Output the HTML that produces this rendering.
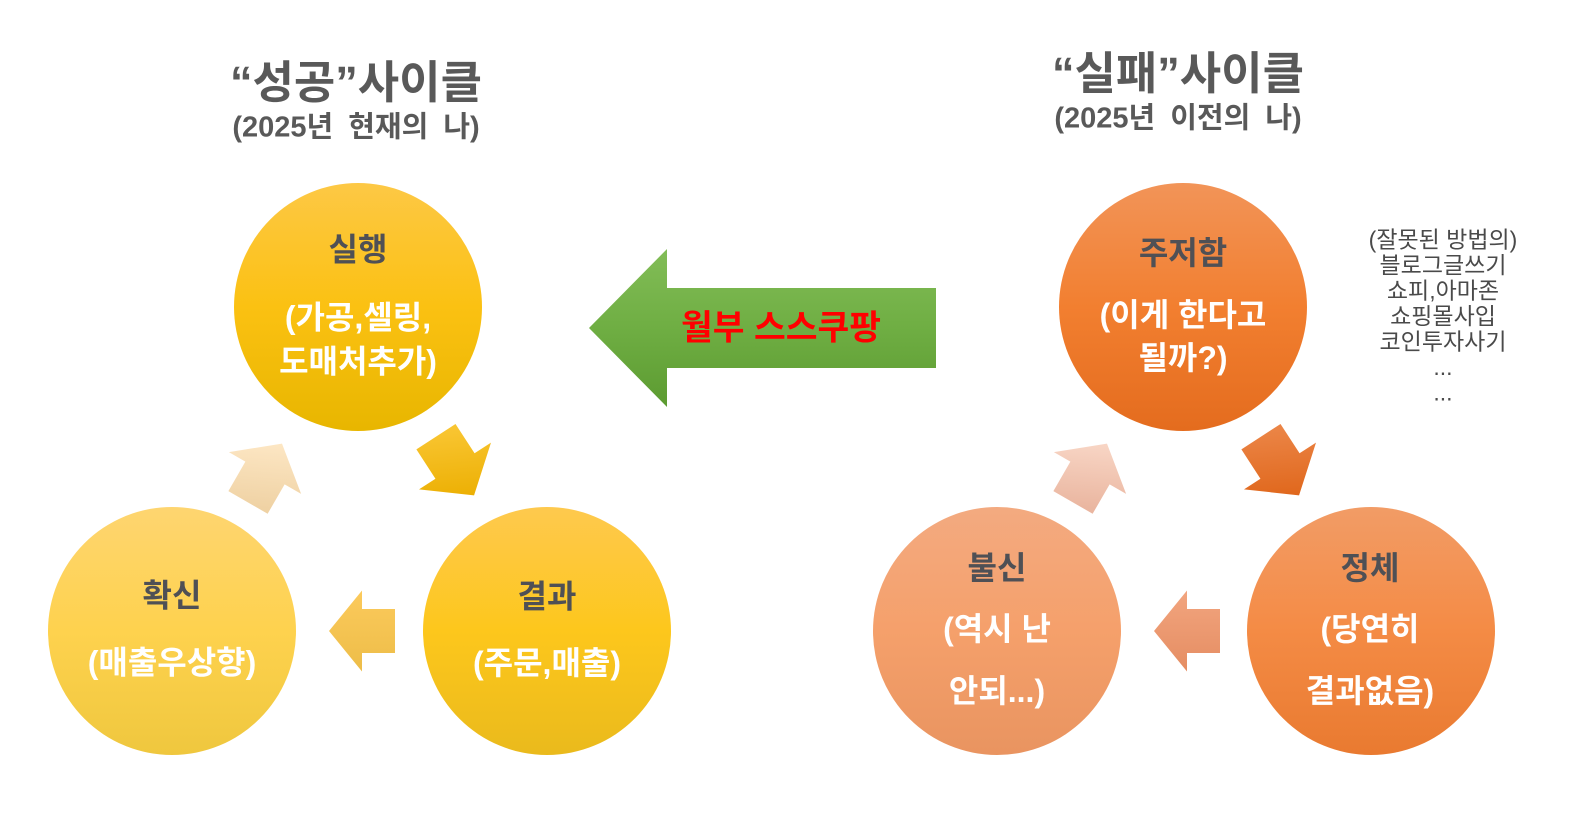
<!DOCTYPE html>
<html>
<head>
<meta charset="utf-8">
<style>
  html,body{margin:0;padding:0;background:#fff;}
  body{width:1579px;height:821px;overflow:hidden;}
  svg{display:block;}
  text{font-family:"Liberation Sans","Noto Sans CJK KR","NanumGothic",sans-serif;}
</style>
</head>
<body>
<svg width="1579" height="821" viewBox="0 0 1579 821" xmlns="http://www.w3.org/2000/svg">
  <defs>
    <linearGradient id="gY1" x1="0" y1="0" x2="0" y2="1">
      <stop offset="0" stop-color="#fdc845"/><stop offset="0.5" stop-color="#fbc112"/><stop offset="1" stop-color="#e8b600"/>
    </linearGradient>
    <linearGradient id="gY2" x1="0" y1="0" x2="0" y2="1">
      <stop offset="0" stop-color="#fec94e"/><stop offset="0.5" stop-color="#fdc71c"/><stop offset="1" stop-color="#eaba1c"/>
    </linearGradient>
    <linearGradient id="gY3" x1="0" y1="0" x2="0" y2="1">
      <stop offset="0" stop-color="#fed570"/><stop offset="0.5" stop-color="#fed24e"/><stop offset="1" stop-color="#efc73e"/>
    </linearGradient>
    <linearGradient id="gO1" x1="0" y1="0" x2="0" y2="1">
      <stop offset="0" stop-color="#f29458"/><stop offset="0.5" stop-color="#f27f30"/><stop offset="1" stop-color="#e46c1e"/>
    </linearGradient>
    <linearGradient id="gO2" x1="0" y1="0" x2="0" y2="1">
      <stop offset="0" stop-color="#f29c66"/><stop offset="0.5" stop-color="#f48b45"/><stop offset="1" stop-color="#e97a30"/>
    </linearGradient>
    <linearGradient id="gO3" x1="0" y1="0" x2="0" y2="1">
      <stop offset="0" stop-color="#f3aa80"/><stop offset="0.5" stop-color="#f5a06b"/><stop offset="1" stop-color="#e99460"/>
    </linearGradient>
    <linearGradient id="gGreen" x1="0" y1="0" x2="0" y2="1">
      <stop offset="0" stop-color="#82bd57"/><stop offset="0.5" stop-color="#6fae43"/><stop offset="1" stop-color="#5c9b31"/>
    </linearGradient>
    <linearGradient id="aDR_Y" x1="0.08" y1="0.23" x2="0.92" y2="0.77">
      <stop offset="0" stop-color="#f9c531"/><stop offset="1" stop-color="#ebae00"/>
    </linearGradient>
    <linearGradient id="aL_Y" x1="0" y1="1" x2="0" y2="0">
      <stop offset="0" stop-color="#fcca5c"/><stop offset="1" stop-color="#edbd48"/>
    </linearGradient>
    <linearGradient id="aUR_Y" x1="0.93" y1="0.25" x2="0.07" y2="0.75">
      <stop offset="0" stop-color="#fee8c6"/><stop offset="1" stop-color="#efd2a4"/>
    </linearGradient>
    <linearGradient id="aDR_O" x1="0.08" y1="0.23" x2="0.92" y2="0.77">
      <stop offset="0" stop-color="#eb8445"/><stop offset="1" stop-color="#df6519"/>
    </linearGradient>
    <linearGradient id="aL_O" x1="0" y1="1" x2="0" y2="0">
      <stop offset="0" stop-color="#f2a57f"/><stop offset="1" stop-color="#e58d62"/>
    </linearGradient>
    <linearGradient id="aUR_O" x1="0.93" y1="0.25" x2="0.07" y2="0.75">
      <stop offset="0" stop-color="#f9d8c8"/><stop offset="1" stop-color="#eab6a0"/>
    </linearGradient>
    <polygon id="arr" points="-33,-22 0,-22 0,-40.5 33,0 0,40.5 0,22 -33,22"/>
  </defs>

  <!-- Titles -->
  <text x="356" y="98" text-anchor="middle" font-size="45" font-weight="700" fill="#595959">“성공”사이클</text>
  <text x="356" y="136.5" text-anchor="middle" font-size="29" font-weight="700" fill="#595959" word-spacing="7">(2025년 현재의 나)</text>
  <text x="1178" y="89" text-anchor="middle" font-size="45" font-weight="700" fill="#595959">“실패”사이클</text>
  <text x="1178" y="127.5" text-anchor="middle" font-size="29" font-weight="700" fill="#595959" word-spacing="7">(2025년 이전의 나)</text>

  <!-- LEFT CYCLE -->
  <circle cx="358" cy="307" r="124" fill="url(#gY1)"/>
  <circle cx="547" cy="631" r="124" fill="url(#gY2)"/>
  <circle cx="172" cy="631" r="124" fill="url(#gY3)"/>

  <g transform="translate(455,466) rotate(57) scale(1.06)"><use href="#arr" fill="url(#aDR_Y)"/></g>
  <g transform="translate(362,631) rotate(180)"><use href="#arr" fill="url(#aL_Y)"/></g>
  <g transform="translate(265,473) rotate(-60) scale(1.03)"><use href="#arr" fill="url(#aUR_Y)"/></g>

  <g text-anchor="middle" font-weight="700" font-size="32">
    <text x="358" y="260.5" fill="#4f5055">실행</text>
    <text x="358" y="328.5" fill="#ffffff">(가공,셀링,</text>
    <text x="358" y="372.5" fill="#ffffff">도매처추가)</text>

    <text x="547" y="607.5" fill="#4f5055">결과</text>
    <text x="547" y="674" fill="#ffffff">(주문,매출)</text>

    <text x="172" y="606.5" fill="#4f5055">확신</text>
    <text x="172" y="673.5" fill="#ffffff">(매출우상향)</text>
  </g>

  <!-- GREEN ARROW -->
  <polygon points="589,328 667,249 667,288 936,288 936,368 667,368 667,407" fill="url(#gGreen)"/>
  <text x="781" y="339.5" text-anchor="middle" font-size="34.5" font-weight="700" fill="#ff0000">월부 스스쿠팡</text>

  <!-- RIGHT CYCLE -->
  <circle cx="1183" cy="307" r="124" fill="url(#gO1)"/>
  <circle cx="1371" cy="631" r="124" fill="url(#gO2)"/>
  <circle cx="997" cy="631" r="124" fill="url(#gO3)"/>

  <g transform="translate(1280,466) rotate(57) scale(1.06)"><use href="#arr" fill="url(#aDR_O)"/></g>
  <g transform="translate(1187,631) rotate(180)"><use href="#arr" fill="url(#aL_O)"/></g>
  <g transform="translate(1090,473) rotate(-60) scale(1.03)"><use href="#arr" fill="url(#aUR_O)"/></g>

  <g text-anchor="middle" font-weight="700" font-size="32">
    <text x="1183" y="264" fill="#4f5055">주저함</text>
    <text x="1183" y="326" fill="#ffffff">(이게 한다고</text>
    <text x="1183" y="369" fill="#ffffff">될까?)</text>

    <text x="1370" y="579" fill="#4f5055">정체</text>
    <text x="1370" y="640" fill="#ffffff">(당연히</text>
    <text x="1370" y="702" fill="#ffffff">결과없음)</text>

    <text x="997" y="579" fill="#4f5055">불신</text>
    <text x="997" y="640" fill="#ffffff">(역시 난</text>
    <text x="997" y="702" fill="#ffffff">안되...)</text>
  </g>

  <!-- Right side list -->
  <g text-anchor="middle" font-size="23" fill="#4a4a4a">
    <text x="1443" y="247.5">(잘못된 방법의)</text>
    <text x="1443" y="273">블로그글쓰기</text>
    <text x="1443" y="298.5">쇼피,아마존</text>
    <text x="1443" y="324">쇼핑몰사입</text>
    <text x="1443" y="349.5">코인투자사기</text>
    <text x="1443" y="375">...</text>
    <text x="1443" y="400.5">...</text>
  </g>
</svg>
</body>
</html>
